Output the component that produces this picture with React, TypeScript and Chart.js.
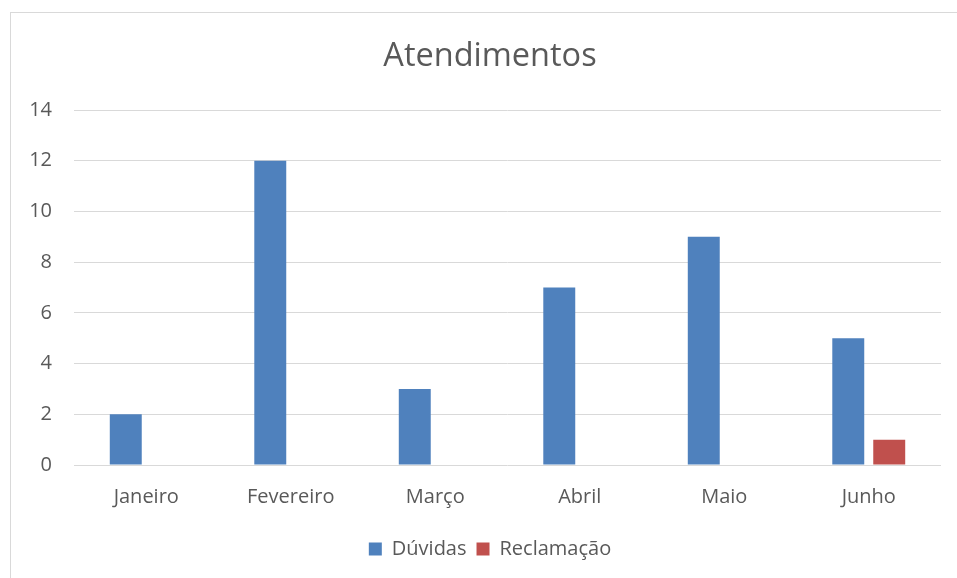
import React, { useEffect, useRef } from "react";
import { Chart, registerables } from "chart.js";

Chart.register(...registerables);

const categories = ["Janeiro", "Fevereiro", "Março", "Abril", "Maio", "Junho"];
const duvidas = [2, 12, 3, 7, 9, 5];
const reclamacao = [0, 0, 0, 0, 0, 1];
const yTicks = [0, 2, 4, 6, 8, 10, 12, 14];

const FONT = "'Open Sans', sans-serif";
const TEXT = "#595959";

export default function App() {
  const ref = useRef<HTMLCanvasElement | null>(null);

  useEffect(() => {
    document.body.style.overflow = "hidden";
    if (!ref.current) return;
    const chart = new Chart(ref.current, {
      type: "bar",
      data: {
        labels: categories,
        datasets: [
          {
            label: "Dúvidas",
            data: duvidas,
            backgroundColor: "#4f81bd",
            borderWidth: 0,
            categoryPercentage: 0.567,
            barPercentage: 0.78,
          },
          {
            label: "Reclamação",
            data: reclamacao,
            backgroundColor: "#c0504d",
            borderWidth: 0,
            categoryPercentage: 0.567,
            barPercentage: 0.78,
          },
        ],
      },
      options: {
        animation: false,
        responsive: false,
        maintainAspectRatio: false,
        layout: { padding: { left: 28, right: 16, top: 0, bottom: 9 } },
        plugins: {
          title: {
            display: true,
            text: "Atendimentos",
            color: TEXT,
            font: { family: FONT, size: 32.5, weight: "normal" },
            padding: { top: 24.5, bottom: 33.5 },
          },
          legend: {
            position: "bottom",
            labels: {
              color: TEXT,
              font: { family: FONT, size: 20 },
              boxWidth: 13,
              boxHeight: 13,
              padding: 10,
            },
          },
          tooltip: { enabled: false },
        },
        scales: {
          x: {
            grid: { display: false, drawTicks: false },
            border: { display: false },
            ticks: { color: TEXT, font: { family: FONT, size: 20 }, padding: 20 },
          },
          y: {
            min: 0,
            max: 14,
            afterBuildTicks: (axis: any) => {
              axis.ticks = yTicks.map((v) => ({ value: v }));
            },
            afterFit: (axis: any) => {
              axis.width = 35;
              axis._computeLabelArea = () => undefined;
            },
            grid: { color: "#d9d9d9", lineWidth: 1, drawTicks: false },
            border: { display: false },
            ticks: { color: TEXT, font: { family: FONT, size: 20 }, padding: 22 },
          },
        },
      },
    });
    return () => chart.destroy();
  }, []);

  return (
    <div style={{ position: "fixed", left: 0, top: 0, width: 957, height: 578, overflow: "hidden", background: "#fff" }}>
      <div
        style={{
          position: "absolute",
          left: 10,
          top: 12,
          width: 1000,
          height: 620,
          border: "1px solid #d9d9d9",
          background: "#fff",
        }}
      >
        <canvas ref={ref} width={946} height={565} style={{ display: "block" }} />
      </div>
    </div>
  );
}
